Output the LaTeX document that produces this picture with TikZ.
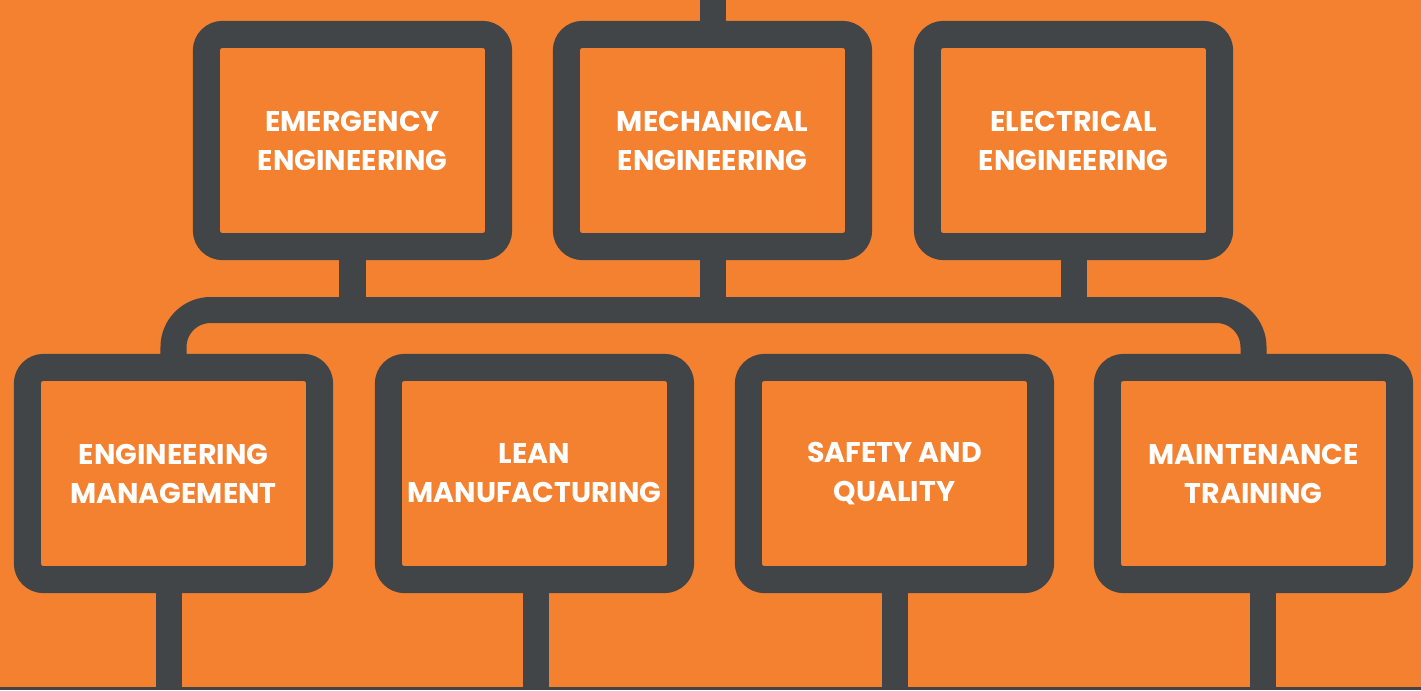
\documentclass[tikz,border=0pt]{standalone}
\usepackage{fontspec}
\setmainfont{Poppins}
\usepackage{tikz}
\definecolor{deptorange}{RGB}{243,129,48}
\definecolor{deptgray}{RGB}{65,69,72}
\tikzstyle{unitbox}=[
        draw=deptgray,
        line width=0.27cm,
        rounded corners=0.16cm,
        minimum width=2.92cm,
        minimum height=2.12cm,
        inner sep=0pt,
        align=center,
        text=white,
        font=\fontsize{8.1}{11.1}\selectfont\bfseries
]
\tikzstyle{link}=[
        draw=deptgray,
        line width=0.26cm
]

\begin{document}
\begin{tikzpicture}[x=0.01cm,y=-0.01cm]
                        \useasboundingbox (0,0) rectangle (1421,690);
                        \fill[deptorange] (0,0) rectangle (1421,690);

                        \node[unitbox] (emer) at (352.5,140.5) {EMERGENCY\\ENGINEERING};
                        \node[unitbox] (mech) at (712.5,140.5) {MECHANICAL\\ENGINEERING};
                        \node[unitbox] (elec) at (1073.5,140.5) {ELECTRICAL\\ENGINEERING};

                        \node[unitbox] (mgmt) at (173.5,473.5) {ENGINEERING\\MANAGEMENT};
                        \node[unitbox] (lean) at (534.5,473.5) {LEAN\\MANUFACTURING};
                        \node[unitbox] (safe) at (894.5,473.5) {SAFETY AND\\QUALITY};
                        \node[unitbox] (maint) at (1253.5,473.5) {MAINTENANCE\\TRAINING};

                        \coordinate (top) at (712.5,0);
                        \coordinate (bus) at (712.5,310);

                        \draw[link] (mech.north) -- (top);
                        \draw[link] (emer.south) -- (emer.south |- bus);
                        \draw[link] (mech.south) -- (bus);
                        \draw[link] (elec.south) -- (elec.south |- bus);
                        \draw[link, rounded corners=0.37cm] (mgmt.north) |- (bus) -| (maint.north);

                        \foreach \unit/\shift in {mgmt/-4.5, lean/1.5, safe/0.5, maint/9} {
                            \coordinate (\unit-end) at ([xshift=\shift*0.01cm]\unit.south |- 0,690);
                            \draw[link] ([xshift=\shift*0.01cm]\unit.south) -- (\unit-end);
                        }

                        \fill[deptgray] (0,687) rectangle (1421,690);
                        
                    \end{tikzpicture}
\end{document}
